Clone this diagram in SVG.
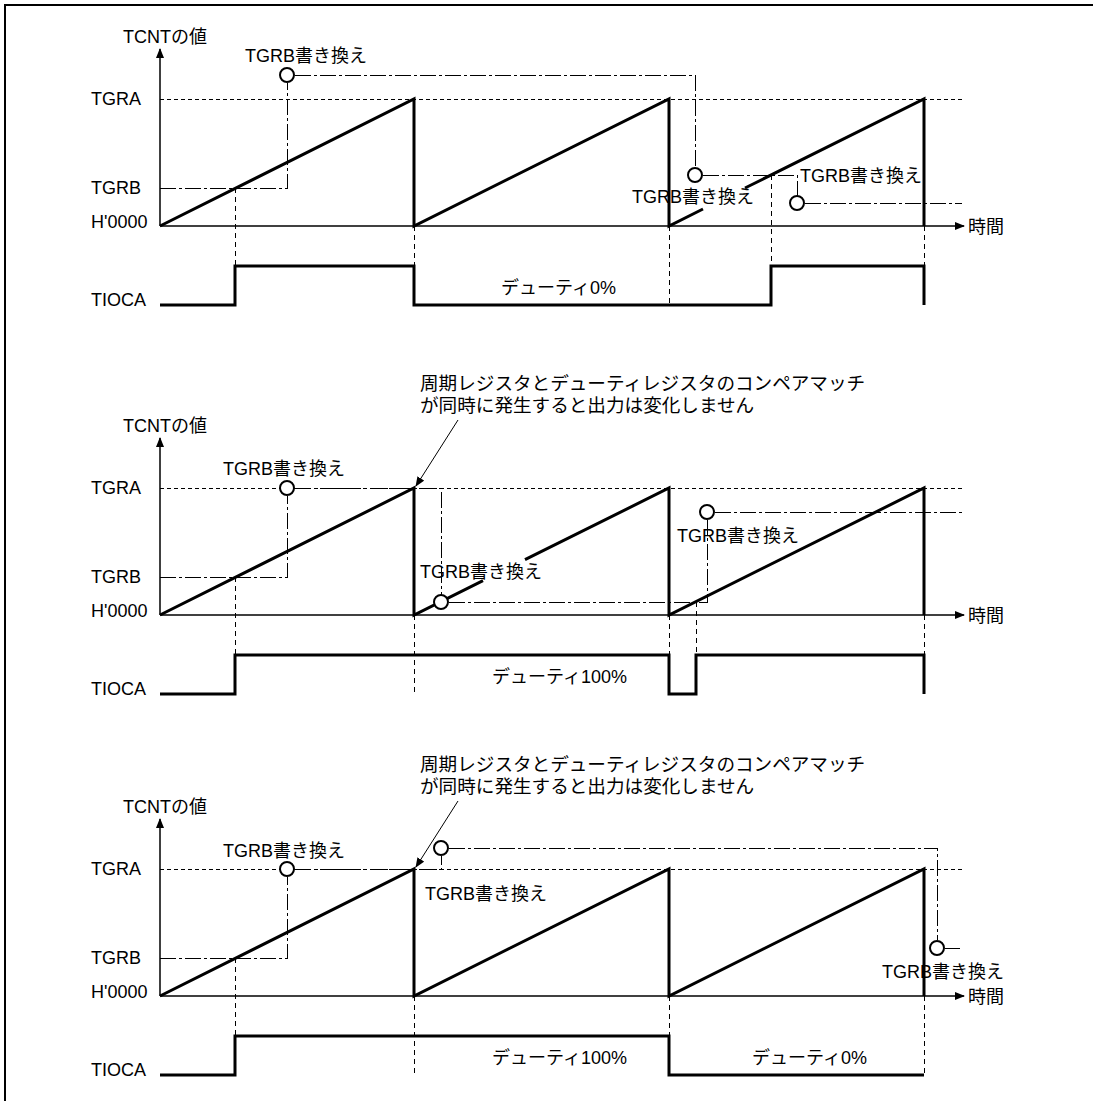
<svg xmlns="http://www.w3.org/2000/svg" width="1093" height="1101" viewBox="0 0 1093 1101">
<style>
text{font-family:"Liberation Sans","Noto Sans CJK JP",sans-serif;font-size:18px;fill:#000}
.ann{font-size:18.6px}
.bold{fill:none;stroke:#000;stroke-width:3;stroke-linejoin:miter}
.axis{fill:none;stroke:#000;stroke-width:1.5}
.dash{fill:none;stroke:#000;stroke-width:1;stroke-dasharray:4 3;shape-rendering:crispEdges}
.vdash{fill:none;stroke:#000;stroke-width:1;stroke-dasharray:5 4;shape-rendering:crispEdges}
.dd{fill:none;stroke:#000;stroke-width:1;stroke-dasharray:16 3 3 3;shape-rendering:crispEdges}
.c{fill:#fff;stroke:#000;stroke-width:2}
.thin{fill:none;stroke:#000;stroke-width:1}
</style>
<defs>
<marker id="ah" markerWidth="10" markerHeight="8" refX="9" refY="4" orient="auto" markerUnits="userSpaceOnUse">
<path d="M0,0 L10,4 L0,8 z" fill="#000"/>
</marker>
<marker id="ah2" markerWidth="10" markerHeight="8" refX="9" refY="4" orient="auto" markerUnits="userSpaceOnUse">
<path d="M0,0 L10,4 L0,8 z" fill="#000"/>
</marker>
</defs>
<rect width="1093" height="1101" fill="#fff"/>
<path d="M5,1101 V5 H1093" fill="none" stroke="#000" stroke-width="2"/>

<!-- Panel 1 -->
<g id="panel1">
<g id="p1-axes">
<path class="axis" d="M160,226 V49" marker-end="url(#ah)"/>
<path class="axis" d="M160,226 H964" marker-end="url(#ah)"/>
<text x="123" y="43">TCNTの値</text>
<text x="91" y="105">TGRA</text>
<text x="91" y="194">TGRB</text>
<text x="91" y="228">H'0000</text>
<text x="968" y="233">時間</text>
<text x="91" y="306">TIOCA</text>
</g>
<g id="p1-connectors">
<path class="dash" d="M160,99 H963"/>
<path class="vdash" d="M235,188 V305 M414,226 V305 M669,226 V305 M771,175 V305 M924,226 V305"/>
<path class="dd" d="M160,188 H287 V83"/>
<path class="dd" d="M295,75 H695 V167"/>
<path class="dd" d="M703,175 H797 V196"/>
<path class="dd" d="M805,203 H962"/>
</g>
<path class="bold" d="M160,226 L414,99 V226 L669,99 V226 L703,209"/>
<path class="bold" d="M745,188 L924,99 V226"/>
<path class="bold" d="M160,305 H235 V266 H414 V305 H771 V266 H924 V305"/>
<g id="p1-w1"><circle class="c" cx="287" cy="75" r="7"/><text x="245" y="62">TGRB書き換え</text></g>
<g id="p1-w2"><circle class="c" cx="695" cy="175" r="7"/><text x="632" y="203">TGRB書き換え</text></g>
<g id="p1-w3"><circle class="c" cx="797" cy="203" r="7"/><text x="800" y="182">TGRB書き換え</text></g>
<text x="501" y="294">デューティ0%</text>
</g>

<!-- Panel 2 -->
<g id="panel2" transform="translate(0,389)">
<g id="p2-axes">
<path class="axis" d="M160,226 V49" marker-end="url(#ah)"/>
<path class="axis" d="M160,226 H964" marker-end="url(#ah)"/>
<text x="123" y="43">TCNTの値</text>
<text x="91" y="105">TGRA</text>
<text x="91" y="194">TGRB</text>
<text x="91" y="228">H'0000</text>
<text x="968" y="233">時間</text>
<text x="91" y="306">TIOCA</text>
</g>
<g id="p2-connectors">
<path class="dash" d="M160,99 H963"/>
<path class="vdash" d="M235,188 V305 M414,226 V305 M669,226 V305 M696,213 V305 M924,226 V305"/>
<path class="dd" d="M160,188 H287 V107"/>
<path class="dd" d="M295,99 H441 V206"/>
<path class="dd" d="M449,213 H707 V131"/>
<path class="dd" d="M715,123 H962"/>
<path class="thin" d="M458,31 L416,97" marker-end="url(#ah2)"/>
</g>
<path class="bold" d="M160,226 L414,99 V226 L483,191.6"/>
<path class="bold" d="M525,170.7 L669,99 V226 L924,99 V226"/>
<path class="bold" d="M160,305 H235 V266 H669 V305 H696 V266 H924 V305"/>
<g id="p2-w1"><circle class="c" cx="287" cy="99" r="7"/><text x="223" y="86">TGRB書き換え</text></g>
<g id="p2-w2"><circle class="c" cx="441" cy="213" r="7"/><text x="420" y="189">TGRB書き換え</text></g>
<g id="p2-w3"><circle class="c" cx="707" cy="123" r="7"/><text x="677" y="153">TGRB書き換え</text></g>
<g id="p2-note"><text class="ann" x="420" y="1">周期レジスタとデューティレジスタのコンペアマッチ</text><text class="ann" x="420" y="23">が同時に発生すると出力は変化しません</text></g>
<text x="492" y="294">デューティ100%</text>
</g>

<!-- Panel 3 -->
<g id="panel3" transform="translate(0,770)">
<g id="p3-axes">
<path class="axis" d="M160,226 V49" marker-end="url(#ah)"/>
<path class="axis" d="M160,226 H964" marker-end="url(#ah)"/>
<text x="123" y="43">TCNTの値</text>
<text x="91" y="105">TGRA</text>
<text x="91" y="194">TGRB</text>
<text x="91" y="228">H'0000</text>
<text x="968" y="233">時間</text>
<text x="91" y="306">TIOCA</text>
</g>
<g id="p3-connectors">
<path class="dash" d="M160,99 H963"/>
<path class="vdash" d="M235,188 V305 M414,226 V305 M669,226 V305 M924,226 V305"/>
<path class="dd" d="M160,188 H287 V107"/>
<path class="dd" d="M295,99 H441 V86"/>
<path class="dd" d="M449,78 H937 V170"/>
<path class="dd" d="M945,178 H960"/>
<path class="thin" d="M458,31 L416,97" marker-end="url(#ah2)"/>
</g>
<path class="bold" d="M160,226 L414,99 V226 L669,99 V226 L924,99 V226"/>
<path class="bold" d="M160,305 H235 V266 H669 V305 H924"/>
<g id="p3-w1"><circle class="c" cx="287" cy="99" r="7"/><text x="223" y="87">TGRB書き換え</text></g>
<g id="p3-w2"><circle class="c" cx="441" cy="78" r="7"/><text x="425" y="130">TGRB書き換え</text></g>
<g id="p3-w3"><circle class="c" cx="937" cy="178" r="7"/><text x="882" y="208">TGRB書き換え</text></g>
<g id="p3-note"><text class="ann" x="420" y="1">周期レジスタとデューティレジスタのコンペアマッチ</text><text class="ann" x="420" y="23">が同時に発生すると出力は変化しません</text></g>
<text x="492" y="294">デューティ100%</text>
<text x="752" y="294">デューティ0%</text>
</g>
</svg>
